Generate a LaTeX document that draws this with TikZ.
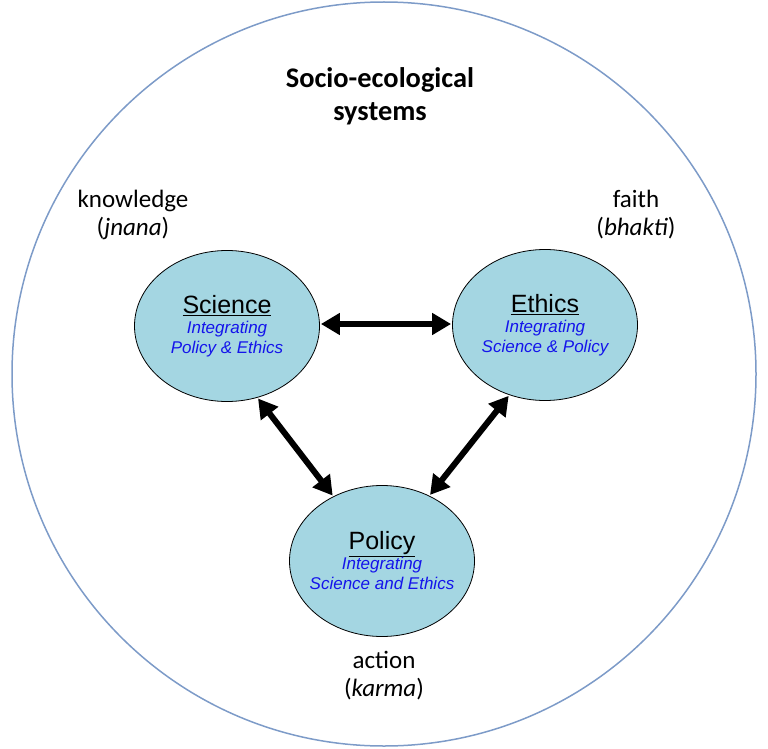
\documentclass[tikz,border=0pt]{standalone}
\usepackage{fontspec}
\setmainfont{Carlito}
\newfontfamily\ArialFont{Liberation Sans}
\usetikzlibrary{arrows.meta, shapes.geometric, positioning}
\definecolor{RingBlue}{RGB}{125,155,200}
\definecolor{PoolBlue}{RGB}{164,214,226}
\definecolor{NoteBlue}{RGB}{20,20,235}
\tikzset{
    DomainBlob/.style={ellipse, draw=black, line width=0.8pt, fill=PoolBlue,
        minimum width=185pt, minimum height=151pt, inner sep=0pt, inner xsep=-20pt,
        align=center, font=\ArialFont\fontsize{17}{20}\selectfont},
    BondArrow/.style={line width=6pt, {Triangle[length=19pt,width=21pt]}-{Triangle[length=19pt,width=21pt]}, shorten <=1pt, shorten >=1pt},
    PathLabel/.style={align=center, font=\fontsize{25}{28}\selectfont}
}
\newcommand{\NoteFont}{\color{NoteBlue}\itshape\fontsize{17}{20}\selectfont}
\newcommand{\Domain}[3]{%
    \fontsize{25}{20}\selectfont\underline{#1}\\
    \NoteFont #2\\
    \NoteFont #3%
}
\begin{document}
\begin{tikzpicture}[x=1pt, y=-1pt]
        \useasboundingbox (0,0) rectangle (768,749);
        % Outer ring
        \draw[RingBlue, line width=1.5pt] (384,374) circle (372);

        \node[font=\bfseries\fontsize{28.4}{33}\selectfont, align=center] (Title) at (380,96)
            {Socio-ecological\\systems};

        % Three domains
        \node[DomainBlob] (Science) at (227,326) {\Domain{Science}{Integrating}{Policy \& Ethics}};
        \node[DomainBlob] (Ethics)  at (545,325) {\Domain{Ethics}{Integrating}{Science \& Policy}};
        \node[DomainBlob] (Policy)  at (382,561) {\Domain{Policy}{Integrating}{Science and Ethics}};

        % Paths
        \node[PathLabel] (Jnana)  at (133,215) {knowledge\\(\textit{jnana})};
        \node[PathLabel] (Bhakti) at (636,215) {faith\\(\textit{bhakti})};
        \node[PathLabel] (Karma)  at (384,676) {action\\(\textit{karma})};

        \draw[BondArrow] (Science.east |- 0,324) -- (Ethics.west |- 0,324);
        \draw[BondArrow] (Science.-67) -- (Policy.127);
        \draw[BondArrow] (Ethics.-117) -- (Policy.54);
    \end{tikzpicture}
\end{document}
